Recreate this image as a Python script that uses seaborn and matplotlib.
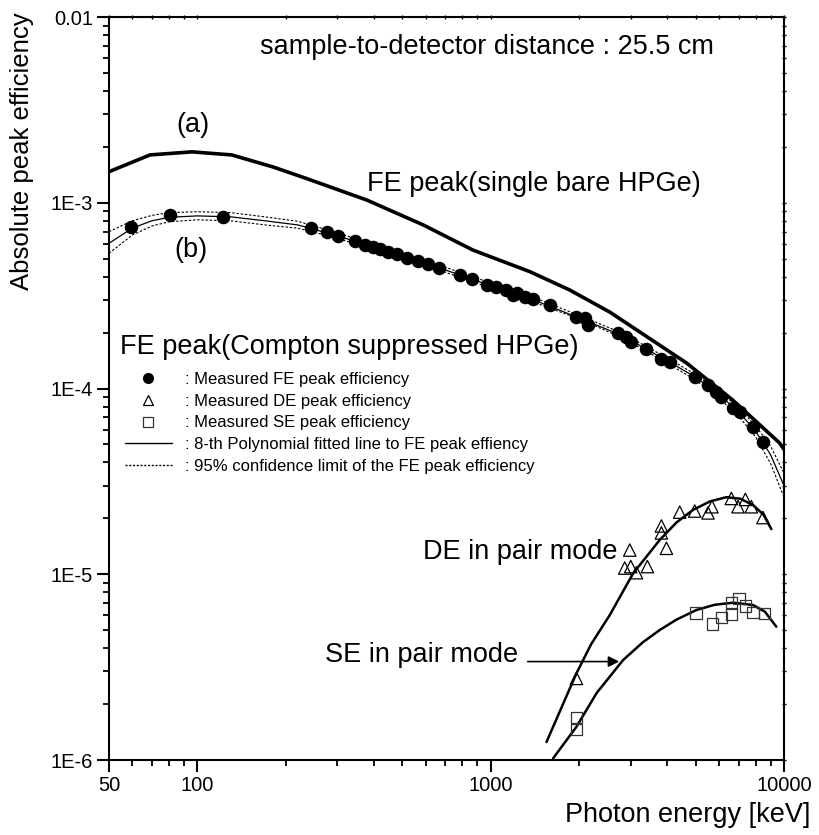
import numpy as np
import pandas as pd
import seaborn as sns
import matplotlib.pyplot as plt
from matplotlib.ticker import FixedLocator, FixedFormatter, NullFormatter
from matplotlib.lines import Line2D

# FE peak efficiency, single bare HPGe (curve a)
bare_energy = [50, 69, 96, 131, 181, 236, 378, 589, 869, 1359, 1861, 2547, 4660, 6683, 9660, 10000]
bare_eff = [1.47e-3, 1.81e-3, 1.88e-3, 1.81e-3, 1.56e-3, 1.35e-3, 1.035e-3, 7.6e-4, 5.57e-4,
            4.26e-4, 3.39e-4, 2.58e-4, 1.37e-4, 8.67e-5, 5.09e-5, 4.7e-5]

# measured FE peak efficiency, Compton suppressed (curve b)
fe_energy = [59.5, 81, 122, 244, 277, 302, 344, 372, 398, 419, 447, 478, 517, 566, 612, 666,
             785, 861, 968, 1047, 1132, 1193, 1225, 1308, 1392, 1591, 1961, 2094, 2149, 2719,
             2904, 3020, 3396, 3820, 4078, 4961, 5507, 5882, 6117, 6700, 7063, 7839, 8478]
fe_eff = [7.4e-4, 8.6e-4, 8.4e-4, 7.3e-4, 7.0e-4, 6.6e-4, 6.2e-4, 5.92e-4, 5.76e-4, 5.62e-4,
          5.45e-4, 5.28e-4, 5.06e-4, 4.86e-4, 4.66e-4, 4.44e-4, 4.08e-4, 3.89e-4, 3.61e-4,
          3.53e-4, 3.39e-4, 3.19e-4, 3.26e-4, 3.12e-4, 3.03e-4, 2.82e-4, 2.44e-4, 2.39e-4,
          2.2e-4, 1.98e-4, 1.9e-4, 1.79e-4, 1.63e-4, 1.45e-4, 1.39e-4, 1.16e-4, 1.04e-4,
          9.61e-5, 9.03e-5, 7.82e-5, 7.5e-5, 6.22e-5, 5.17e-5]

# 8-th polynomial fit and 95% confidence limits
fit_energy = [50, 60, 70, 80, 100, 130, 170, 220, 300, 400, 500, 700, 1000, 1400, 2000, 2800,
              4000, 5000, 6000, 7000, 8000, 9000, 10000]
fit_eff = [6.05e-4, 7.3e-4, 8.0e-4, 8.35e-4, 8.5e-4, 8.4e-4, 8.0e-4, 7.6e-4, 6.65e-4, 5.75e-4,
           5.1e-4, 4.35e-4, 3.58e-4, 3.0e-4, 2.4e-4, 1.93e-4, 1.41e-4, 1.15e-4, 9.3e-5, 7.5e-5,
           5.9e-5, 4.4e-5, 3.0e-5]
fit_upper = [6.99e-4, 8.0e-4, 8.55e-4, 8.85e-4, 8.95e-4, 8.85e-4, 8.4e-4, 7.95e-4, 6.9e-4,
             5.95e-4, 5.27e-4, 4.5e-4, 3.7e-4, 3.09e-4, 2.48e-4, 1.99e-4, 1.46e-4, 1.19e-4,
             9.7e-5, 7.9e-5, 6.3e-5, 4.9e-5, 3.5e-5]
fit_lower = [5.34e-4, 6.7e-4, 7.5e-4, 7.9e-4, 8.1e-4, 8.0e-4, 7.6e-4, 7.3e-4, 6.45e-4, 5.58e-4,
             4.95e-4, 4.23e-4, 3.48e-4, 2.92e-4, 2.37e-4, 1.88e-4, 1.37e-4, 1.11e-4, 8.9e-5,
             7.1e-5, 5.5e-5, 3.95e-5, 2.6e-5]

# double escape (DE) peak
de_energy = [1961, 2865, 2980, 3003, 3141, 3422, 3820, 3820, 3974, 4411, 4961, 5507, 5682,
             6615, 6970, 7384, 7741, 8478]
de_eff = [2.75e-6, 1.08e-5, 1.35e-5, 1.10e-5, 1.02e-5, 1.10e-5, 1.82e-5, 1.67e-5, 1.38e-5,
          2.16e-5, 2.19e-5, 2.14e-5, 2.31e-5, 2.56e-5, 2.31e-5, 2.53e-5, 2.31e-5, 2.02e-5]
de_fit_energy = [1550, 1961, 2200, 2547, 3058, 3770, 4300, 4895, 5600, 6362, 7100, 7839, 8500, 9057]
de_fit_eff = [1.25e-6, 2.93e-6, 4.2e-6, 6.03e-6, 1.01e-5, 1.53e-5, 1.9e-5, 2.22e-5, 2.47e-5,
              2.6e-5, 2.55e-5, 2.36e-5, 2.1e-5, 1.75e-5]

# single escape (SE) peak
se_energy = [1961, 1961, 5000, 5700, 6117, 6615, 6615, 7008, 7402, 7839, 8593]
se_eff = [1.69e-6, 1.46e-6, 6.21e-6, 5.38e-6, 5.86e-6, 6.09e-6, 7.03e-6, 7.42e-6, 6.75e-6,
          6.24e-6, 6.16e-6]
se_fit_energy = [1632, 1961, 2300, 2827, 3300, 3770, 4300, 5027, 5800, 6700, 7839, 8600, 9417]
se_fit_eff = [1.02e-6, 1.51e-6, 2.3e-6, 3.45e-6, 4.3e-6, 5.01e-6, 5.7e-6, 6.42e-6, 6.85e-6,
              7.03e-6, 6.83e-6, 6.3e-6, 5.22e-6]

x_major = [50, 100, 1000, 10000]
x_major_labels = ["50", "100", "1000", "10000"]
y_major = [1e-6, 1e-5, 1e-4, 1e-3, 1e-2]
y_major_labels = ["1E-6", "1E-5", "1E-4", "1E-3", "0.01"]

sns.set_style("ticks")
plt.rcParams['font.family'] = ['Liberation Sans', 'DejaVu Sans']
plt.rcParams['text.color'] = 'k'
plt.rcParams['axes.edgecolor'] = 'k'

fig = plt.figure(figsize=(8.2, 8.35), dpi=100)
ax = fig.add_axes([0.1329, 0.0898, 0.8232, 0.8898])

bare = pd.DataFrame({'E': bare_energy, 'eff': bare_eff})
fe = pd.DataFrame({'E': fe_energy, 'eff': fe_eff})
fit = pd.DataFrame({'E': fit_energy, 'eff': fit_eff, 'up': fit_upper, 'lo': fit_lower})
de = pd.DataFrame({'E': de_energy, 'eff': de_eff})
de_fit = pd.DataFrame({'E': de_fit_energy, 'eff': de_fit_eff})
se = pd.DataFrame({'E': se_energy, 'eff': se_eff})
se_fit = pd.DataFrame({'E': se_fit_energy, 'eff': se_fit_eff})

dash = (0, (2.2, 1.6))
sns.lineplot(data=bare, x='E', y='eff', ax=ax, color='k', lw=2.6, estimator=None, sort=False)
sns.lineplot(data=fit, x='E', y='up', ax=ax, color='k', lw=0.8, ls=dash, estimator=None)
sns.lineplot(data=fit, x='E', y='lo', ax=ax, color='k', lw=0.8, ls=dash, estimator=None)
sns.lineplot(data=fit, x='E', y='eff', ax=ax, color='k', lw=0.9, estimator=None)
sns.lineplot(data=de_fit, x='E', y='eff', ax=ax, color='k', lw=1.8, estimator=None)
sns.lineplot(data=se_fit, x='E', y='eff', ax=ax, color='k', lw=1.8, estimator=None)

sns.scatterplot(data=fe, x='E', y='eff', ax=ax, marker='o', s=95, color='k',
                edgecolor='k', linewidth=0, zorder=5)
sns.scatterplot(data=de, x='E', y='eff', ax=ax, marker='^', s=80, facecolor='none',
                edgecolor='k', linewidth=0.9, zorder=5)
sns.scatterplot(data=se, x='E', y='eff', ax=ax, marker='s', s=70, facecolor='none',
                edgecolor='#333333', linewidth=0.9, zorder=5)

ax.set_xscale('log')
ax.set_yscale('log')
ax.set_xlim(50, 10000)
ax.set_ylim(1e-6, 1e-2)

ax.xaxis.set_major_locator(FixedLocator(x_major))
ax.xaxis.set_major_formatter(FixedFormatter(x_major_labels))
ax.xaxis.set_minor_locator(FixedLocator([60, 70, 80, 90] + [k * 100 for k in range(2, 10)]
                                        + [k * 1000 for k in range(2, 10)]))
ax.xaxis.set_minor_formatter(NullFormatter())
ax.yaxis.set_major_locator(FixedLocator(y_major))
ax.yaxis.set_major_formatter(FixedFormatter(y_major_labels))
ax.yaxis.set_minor_locator(FixedLocator([k * 10.0 ** e for e in range(-6, -2) for k in range(2, 10)]))
ax.yaxis.set_minor_formatter(NullFormatter())

for side in ['left', 'bottom', 'top', 'right']:
    ax.spines[side].set_visible(True)
    ax.spines[side].set_linewidth(1.5)
    ax.spines[side].set_color('k')
ax.tick_params(which='major', direction='out', length=8.5, width=1.5, labelsize=14.5, pad=3,
               color='k', labelcolor='k')
ax.tick_params(which='minor', direction='out', length=4.5, width=1.3, color='k')
ax.tick_params(which='both', top=True, right=True, labeltop=False, labelright=False)
for t in ax.xaxis.get_major_ticks() + ax.xaxis.get_minor_ticks():
    t.tick2line.set_marker('|')
    t.tick2line.set_markersize(3)
    t.tick2line.set_markeredgewidth(1)
for t in ax.yaxis.get_major_ticks() + ax.yaxis.get_minor_ticks():
    t.tick2line.set_marker('_')
    t.tick2line.set_markersize(3)
    t.tick2line.set_markeredgewidth(1)
ax.set_xlabel('')
ax.set_ylabel('')

fs = 19.5
ax.text(0.2237, 0.9596, 'sample-to-detector distance : 25.5 cm', transform=ax.transAxes,
        fontsize=fs, ha='left', va='center')
ax.text(0.1244, 0.8546, '(a)', transform=ax.transAxes, fontsize=fs, ha='center', va='center')
ax.text(0.1215, 0.6864, '(b)', transform=ax.transAxes, fontsize=fs, ha='center', va='center')
ax.text(0.3822, 0.7752, 'FE peak(single bare HPGe)', transform=ax.transAxes, fontsize=fs,
        ha='left', va='center')
ax.text(0.0163, 0.5559, 'FE peak(Compton suppressed HPGe)', transform=ax.transAxes,
        fontsize=fs, ha='left', va='center')
ax.text(0.7526, 0.2799, 'DE in pair mode', transform=ax.transAxes, fontsize=fs,
        ha='right', va='center')
ax.text(0.6059, 0.1413, 'SE in pair mode', transform=ax.transAxes, fontsize=fs,
        ha='right', va='center')
ax.annotate('', xy=(0.76, 0.1325), xytext=(0.6163, 0.1325), xycoords='axes fraction',
            arrowprops=dict(arrowstyle='-|>', color='k', lw=1.2, mutation_scale=16))

handles = [
    Line2D([], [], ls='none', marker='o', ms=7, color='k'),
    Line2D([], [], ls='none', marker='^', ms=7, mfc='none', mec='k', mew=0.9),
    Line2D([], [], ls='none', marker='s', ms=6.5, mfc='none', mec='#333333', mew=0.9),
    Line2D([], [], color='k', lw=1.0),
    Line2D([], [], color='k', lw=1.0, ls=(0, (1.5, 1.2))),
]
labels = [': Measured FE peak efficiency', ': Measured DE peak efficiency',
          ': Measured SE peak efficiency', ': 8-th Polynomial fitted line to FE peak effiency',
          ': 95% confidence limit of the FE peak efficiency']
fig.legend(handles, labels, loc='upper left', bbox_to_anchor=(125 / 820, 1 - 372 / 835),
           frameon=False, fontsize=12, handlelength=2.8, handletextpad=0.8,
           labelspacing=0.4, borderpad=0, borderaxespad=0)

fig.text(22 / 820, 1 - 12 / 835, 'Absolute peak efficiency', rotation=90, fontsize=18.5,
         ha='center', va='top')
fig.text(810 / 820, 1 - 815 / 835, 'Photon energy [keV]', fontsize=fs, ha='right', va='center')

fig.savefig('out.png', dpi=100)
